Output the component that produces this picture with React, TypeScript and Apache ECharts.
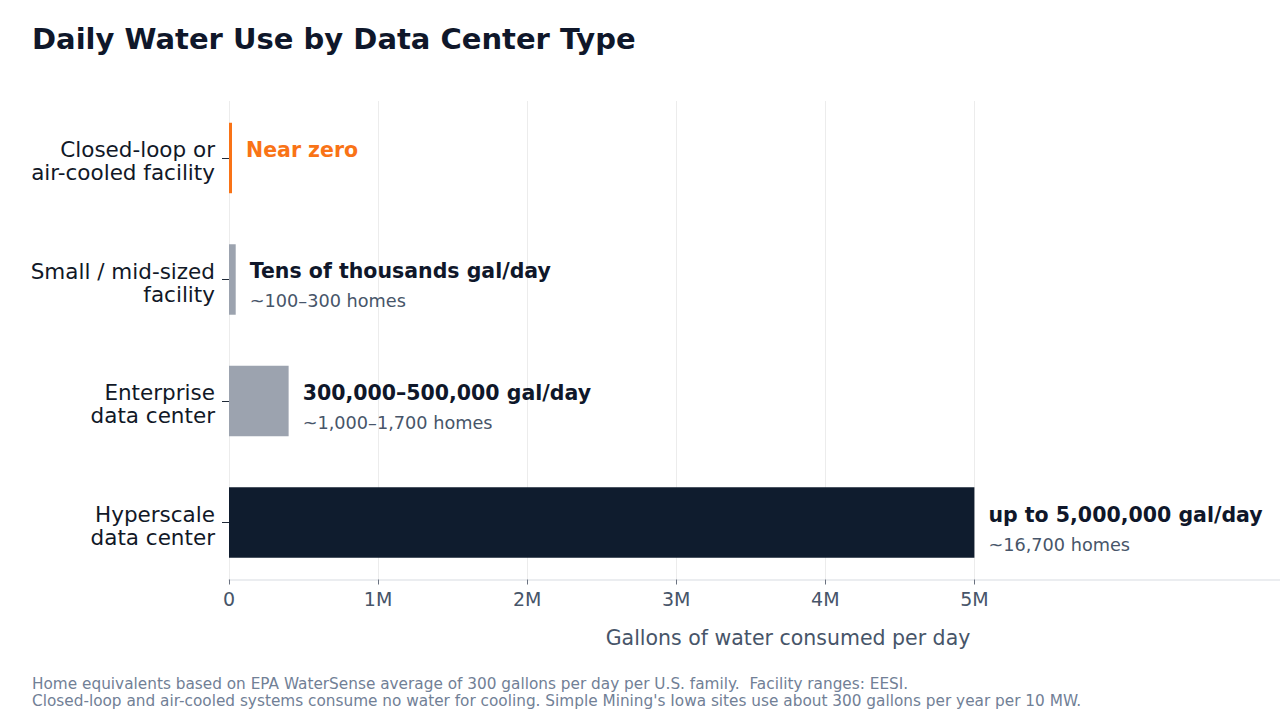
import React, { useEffect, useRef } from "react";
import * as echarts from "echarts";

// Facility types, top to bottom
const categories = [
  "Closed-loop or\nair-cooled facility",
  "Small / mid-sized\nfacility",
  "Enterprise\ndata center",
  "Hyperscale\ndata center",
];

// Gallons of water consumed per day
const gallonsPerDay = [20000, 45000, 400000, 5000000];

const headlines = [
  "Near zero",
  "Tens of thousands gal/day",
  "300,000–500,000 gal/day",
  "up to 5,000,000 gal/day",
];

const homeEquivalents = ["", "~100–300 homes", "~1,000–1,700 homes", "~16,700 homes"];

const xTicks = [0, 1000000, 2000000, 3000000, 4000000, 5000000];
const rowIndex = [0, 1, 2, 3];

const footnotes = [
  "Home equivalents based on EPA WaterSense average of 300 gallons per day per U.S. family.  Facility ranges: EESI.",
  "Closed-loop and air-cooled systems consume no water for cooling. Simple Mining's Iowa sites use about 300 gallons per year per 10 MW.",
];

const FONT = "DejaVu Sans";
const NAVY = "#0f172a";
const ORANGE = "#f97316";
const SLATE = "#475569";
const barFill = [ORANGE, "#9ca3af", "#9ca3af", "#0f1c2e"];
const BAR_THICKNESS = 0.58; // in row units
const LABEL_NUDGE = 0.025; // row labels sit slightly below their tick

export default function App() {
  const ref = useRef<HTMLDivElement>(null);

  useEffect(() => {
    document.body.style.margin = "0";
    if (!ref.current) return;
    const chart = echarts.init(ref.current, null, { renderer: "svg" });

    const renderItem = (params: any, api: any) => {
      const v = api.value(0);
      const i = api.value(1);
      const start = api.coord([0, i]);
      const end = api.coord([v, i]);
      const h = api.size([0, BAR_THICKNESS])[1];
      const single = homeEquivalents[i] === "";
      const tx = end[0] + 14;
      const children: any[] = [
        {
          type: "rect",
          shape: { x: start[0], y: start[1] - h / 2, width: end[0] - start[0], height: h },
          style: { fill: barFill[i] },
        },
        {
          type: "text",
          x: tx,
          y: end[1] - 8,
          style: {
            text: headlines[i],
            fontFamily: FONT,
            fontSize: 20.5,
            fontWeight: "bold",
            fill: single ? ORANGE : NAVY,
            verticalAlign: "middle",
            align: "left",
          },
        },
      ];
      if (!single) {
        children.push({
          type: "text",
          x: tx,
          y: end[1] + 22,
          style: {
            text: homeEquivalents[i],
            fontFamily: FONT,
            fontSize: 17.7,
            fill: SLATE,
            verticalAlign: "middle",
            align: "left",
          },
        });
      }
      return { type: "group", children };
    };

    chart.setOption({
      animation: false,
      backgroundColor: "#ffffff",
      textStyle: { fontFamily: FONT },
      title: {
        text: "Daily Water Use by Data Center Type",
        left: 32,
        top: 24,
        padding: 0,
        textStyle: { fontFamily: FONT, fontSize: 29, fontWeight: "bold", color: NAVY },
      },
      grid: { left: 229, right: 0, top: 101, bottom: 140.5, containLabel: false },
      xAxis: {
        type: "value",
        min: 0,
        max: 7050000,
        interval: 1000000,
        name: "Gallons of water consumed per day",
        nameLocation: "middle",
        nameGap: 48,
        nameTextStyle: { fontFamily: FONT, fontSize: 20.5, color: SLATE, padding: [0, 0, 0, 67] },
        axisLine: { show: true, onZero: false, lineStyle: { color: "#e5e7eb", width: 1.5 } },
        axisTick: { show: true, length: 5, customValues: xTicks, lineStyle: { color: "#6b7280" } },
        axisLabel: {
          customValues: xTicks,
          fontFamily: FONT,
          fontSize: 19,
          color: SLATE,
          margin: 10,
          formatter: (v: number) => (v === 0 ? "0" : `${v / 1000000}M`),
        },
        splitLine: { show: true, lineStyle: { color: "#ececec", width: 1 } },
      },
      yAxis: {
        type: "value",
        inverse: true,
        min: -0.469,
        max: 3.469,
        axisLine: { show: false, onZero: false },
        axisTick: { show: true, length: 7, customValues: rowIndex, lineStyle: { color: "#1f2937" } },
        axisLabel: {
          customValues: rowIndex.map((i) => i + LABEL_NUDGE),
          fontFamily: FONT,
          fontSize: 21.5,
          lineHeight: 23,
          color: "#111827",
          margin: 14,
          align: "right",
          formatter: (v: number) => categories[Math.round(v)] ?? "",
        },
        splitLine: { show: false },
      },
      series: [
        {
          type: "custom",
          renderItem,
          encode: { x: 0, y: 1 },
          data: gallonsPerDay.map((v, i) => [v, rowIndex[i]]),
          silent: true,
          clip: false,
        },
      ],
      graphic: footnotes.map((t, i) => ({
        type: "text",
        left: 32,
        top: 676 + i * 17.5,
        style: { text: t, fontFamily: FONT, fontSize: 15.3, fill: "#718096" },
      })),
    });

    return () => chart.dispose();
  }, []);

  return <div ref={ref} style={{ width: 1280, height: 720 }} />;
}
